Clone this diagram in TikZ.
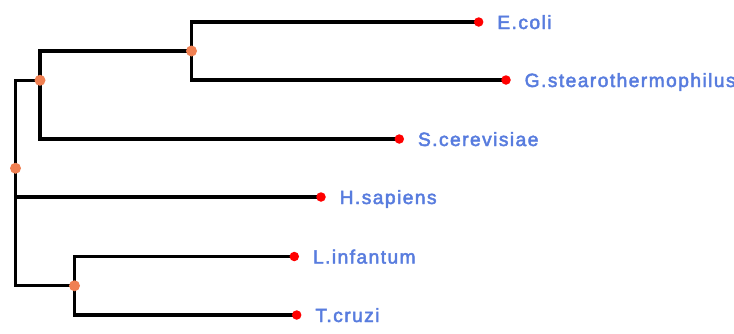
\documentclass[tikz,border=0pt]{standalone}
\usepackage{fontspec}
\newfontfamily\lblfont{Liberation Sans}[LetterSpace=7.5,FakeBold=2.5]
\usetikzlibrary{backgrounds}
\definecolor{lblblue}{RGB}{88,124,222}
\definecolor{innerorange}{RGB}{240,128,82}
\definecolor{leafred}{RGB}{255,0,0}
\tikzset{
  inner/.style={circle,fill=innerorange,minimum size=11pt,inner sep=0pt},
  leaf/.style={circle,fill=leafred,minimum size=9.5pt,inner sep=0pt},
  lbl/.style={anchor=base west,inner sep=0pt,text=lblblue,font=\lblfont\fontsize{19.2}{19.2}\selectfont},
  branch/.style={line width=3.2pt,draw=black}
}
\begin{document}
\begin{tikzpicture}[x=1pt,y=-1pt]
\useasboundingbox (0,0) rectangle (734,333);
% internal nodes
\node[inner] (root) at (15.5,168.25) {};
\node[inner] (B) at (40,80.3) {};
\node[inner] (A) at (191.5,51) {};
\node[inner] (C) at (74.5,285.75) {};
% leaves
\node[leaf] (ecoli) at (478.7,22) {};
\node[leaf] (gst) at (506,80) {};
\node[leaf] (scer) at (399.3,139) {};
\node[leaf] (hsap) at (321,197) {};
\node[leaf] (linf) at (294.3,256.5) {};
\node[leaf] (tcru) at (296.7,315) {};
% labels
\node[lbl] (ecolil) at (497.2,29) {E.coli};
\node[lbl] (gstl) at (524.5,87) {G.stearothermophilus};
\node[lbl] (scerl) at (417.8,146) {S.cerevisiae};
\node[lbl] (hsapl) at (339.5,204) {H.sapiens};
\node[lbl] (linfl) at (312.8,263.5) {L.infantum};
\node[lbl] (tcrul) at (315.2,322) {T.cruzi};
% branches
\begin{scope}[on background layer]
\draw[branch] (root.center) |- (B.center);
\draw[branch] (root.center) |- (hsap.center);
\draw[branch] (root.center) |- (C.center);
\draw[branch] (B.center) |- (A.center);
\draw[branch] (B.center) |- (scer.center);
\draw[branch] (A.center) |- (ecoli.center);
\draw[branch] (A.center) |- (gst.center);
\draw[branch] (C.center) |- (linf.center);
\draw[branch] (C.center) |- (tcru.center);
\end{scope}
\end{tikzpicture}
\end{document}
